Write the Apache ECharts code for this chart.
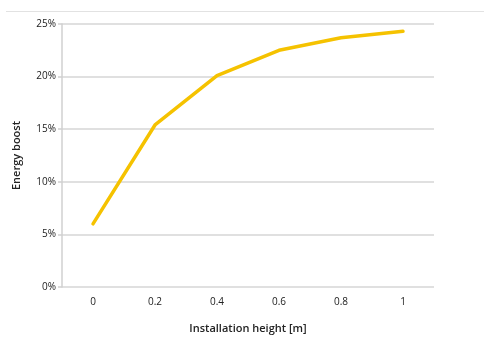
<!DOCTYPE html>
<html>
<head>
<meta charset="utf-8">
<script src="https://cdn.jsdelivr.net/npm/echarts@6/dist/echarts.min.js"></script>
<style>
  html, body { margin: 0; padding: 0; background: #fff; }
  #chart { width: 488px; height: 341px; }
</style>
</head>
<body>
<div id="chart"></div>
<script>
// Installation height (m) and the resulting energy boost (%)
const heights = ['0', '0.2', '0.4', '0.6', '0.8', '1'];
const boost = [6.0, 15.4, 20.1, 22.5, 23.7, 24.3];
const yTicks = [0, 5, 10, 15, 20, 25];

const font = '"Open Sans", "Noto Sans", sans-serif';
const chart = echarts.init(document.getElementById('chart'), null, { renderer: 'canvas' });

chart.setOption({
  animation: false,
  backgroundColor: '#fff',
  graphic: [{
    type: 'line',
    shape: { x1: 6, y1: 11.5, x2: 484, y2: 11.5 },
    style: { stroke: '#e2e2e2', lineWidth: 1 }
  }],
  grid: { left: 62, right: 54, top: 24, bottom: 54, containLabel: false },
  xAxis: {
    type: 'category',
    data: heights,
    boundaryGap: true,
    name: 'Installation height [m]',
    nameLocation: 'middle',
    nameGap: 36,
    nameTextStyle: { fontFamily: font, fontSize: 11, fontWeight: 600, color: '#222' },
    axisLine: { show: false },
    axisTick: { show: false },
    axisLabel: { fontFamily: font, fontSize: 10, color: '#222', margin: 10 }
  },
  yAxis: {
    type: 'value',
    min: yTicks[0],
    max: yTicks[yTicks.length - 1],
    interval: 5,
    name: 'Energy boost',
    nameLocation: 'middle',
    nameGap: 40,
    nameTextStyle: { fontFamily: font, fontSize: 11, fontWeight: 600, color: '#222' },
    axisLine: { show: true, lineStyle: { color: '#d0d0d0', width: 1.5 } },
    axisTick: { show: true, length: 4, lineStyle: { color: '#d0d0d0', width: 1.5 } },
    splitLine: { show: true, lineStyle: { color: '#d6d6d6', width: 1.5 } },
    axisLabel: { fontFamily: font, fontSize: 10, color: '#222', margin: 6, formatter: '{value}%' }
  },
  series: [{
    type: 'line',
    data: boost,
    symbol: 'none',
    lineStyle: { color: '#f5c200', width: 3.5, cap: 'round', join: 'round' }
  }]
});
</script>
</body>
</html>
